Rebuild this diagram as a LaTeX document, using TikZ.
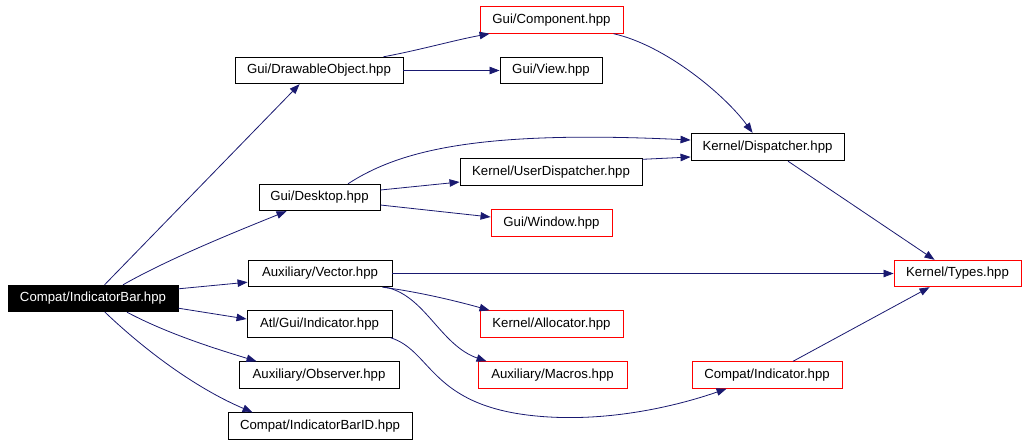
\documentclass[tikz,border=0pt]{standalone}
\usepackage{fontspec}
\setmainfont{Liberation Sans}
\usetikzlibrary{arrows.meta,calc}
\definecolor{edgeblue}{HTML}{191970}
\begin{document}
\begin{tikzpicture}[x=1pt,y=-1pt,
  box/.style={draw=black,line width=0.9pt,fill=white,inner sep=0pt,minimum height=26.5pt,
    font=\fontsize{13.2}{15}\selectfont},
  redbox/.style={box,draw=red},
  mainbox/.style={box,fill=black,text=white},
  edge/.style={draw=edgeblue,line width=0.8pt,-{Triangle[length=10pt,width=7.5pt]}}]
\useasboundingbox (0,0) rectangle (1027,445);

\node[mainbox,minimum width=170pt] (bar) at (93,298.5) {Compat/IndicatorBar.hpp};
\node[box,minimum width=168pt] (draw) at (319,70.5) {Gui/DrawableObject.hpp};
\node[redbox,minimum width=143pt] (comp) at (551.5,20) {Gui/Component.hpp};
\node[box,minimum width=102pt] (view) at (551,70.5) {Gui/View.hpp};
\node[box,minimum width=121pt] (desk) at (319.5,197.5) {Gui/Desktop.hpp};
\node[box,minimum width=182pt] (udisp) at (551,172) {Kernel/UserDispatcher.hpp};
\node[redbox,minimum width=121pt] (win) at (551.5,223) {Gui/Window.hpp};
\node[box,minimum width=153pt,minimum height=27.5pt] (disp) at (767.5,147) {Kernel/Dispatcher.hpp};
\node[redbox,minimum width=127pt] (types) at (957.5,273.5) {Kernel/Types.hpp};
\node[box,minimum width=144pt] (vec) at (320,273.5) {Auxiliary/Vector.hpp};
\node[box,minimum width=145pt] (atl) at (319.5,324) {Atl/Gui/Indicator.hpp};
\node[box,minimum width=160pt] (obs) at (319,375) {Auxiliary/Observer.hpp};
\node[box,minimum width=184pt] (barid) at (320,426) {Compat/IndicatorBarID.hpp};
\node[redbox,minimum width=143pt] (alloc) at (551.5,324) {Kernel/Allocator.hpp};
\node[redbox,minimum width=149pt] (macros) at (552.5,375) {Auxiliary/Macros.hpp};
\node[redbox,minimum width=150pt] (cind) at (767,375) {Compat/Indicator.hpp};

% edges from Compat/IndicatorBar.hpp
\draw[edge] ($(bar.north west)+(97,0)$) -- ($(draw.south west)+(65,0)$);
\draw[edge] ($(bar.north)+(30,0)$) .. controls (170,258) and (240,230) .. ($(desk.south west)+(28,0)$);
\draw[edge] ($(bar.north east)+(0,4)$) -- ($(vec.south west)+(0,-5)$);
\draw[edge] ($(bar.south east)+(0,-4)$) -- ($(atl.west)+(0,-5)$);
\draw[edge] ($(bar.south)+(34,0)$) .. controls (170,335) and (220,350) .. ($(obs.north west)+(18,0)$);
\draw[edge] ($(bar.south)+(12,0)$) .. controls (150,355) and (200,390) .. ($(barid.north west)+(25,0)$);

% Gui/DrawableObject.hpp
\draw[edge] ($(draw.north east)+(-20,0)$) .. controls (420,50) and (455,40) .. ($(comp.south west)+(10,0)$);
\draw[edge] (draw.east) -- (view.west);

% Gui/Component.hpp
\draw[edge] ($(comp.south east)+(-10,0)$) .. controls (665,45) and (725,95) .. ($(disp.north west)+(62,0)$);

% Gui/Desktop.hpp
\draw[edge] ($(desk.north)+(28.5,0)$) .. controls (400,150) and (480,130) .. ($(disp.west)+(0,-7)$);
\draw[edge] ($(desk.east)+(0,-7.5)$) -- ($(udisp.west)+(0,10)$);
\draw[edge] ($(desk.east)+(0,7.5)$) -- ($(win.west)+(0,-6)$);

% Kernel/UserDispatcher.hpp
\draw[edge] ($(udisp.north east)+(0,1)$) -- ($(disp.west)+(0,10)$);

% Kernel/Dispatcher.hpp
\draw[edge] ($(disp.south)+(20.5,0)$) -- ($(types.north west)+(41,0)$);

% Auxiliary/Vector.hpp
\draw[edge] (vec.east) -- (types.west);
\draw[edge] ($(vec.south east)+(-10,0)$) .. controls (420,292) and (460,302) .. ($(alloc.north west)+(10,0)$);
\draw[edge] ($(vec.south east)+(-7,0)$) .. controls (425,295) and (440,345) .. ($(macros.north west)+(9,0)$);

% Atl/Gui/Indicator.hpp
\draw[edge] ($(atl.south east)+(-2,0)$) .. controls (430,350) and (430,400) .. (520,414)
  .. controls (600,426) and (680,405) .. ($(cind.south west)+(35,0)$);

% Compat/Indicator.hpp
\draw[edge] ($(cind.north)+(26,0)$) -- ($(types.south west)+(36,0)$);
\end{tikzpicture}
\end{document}
